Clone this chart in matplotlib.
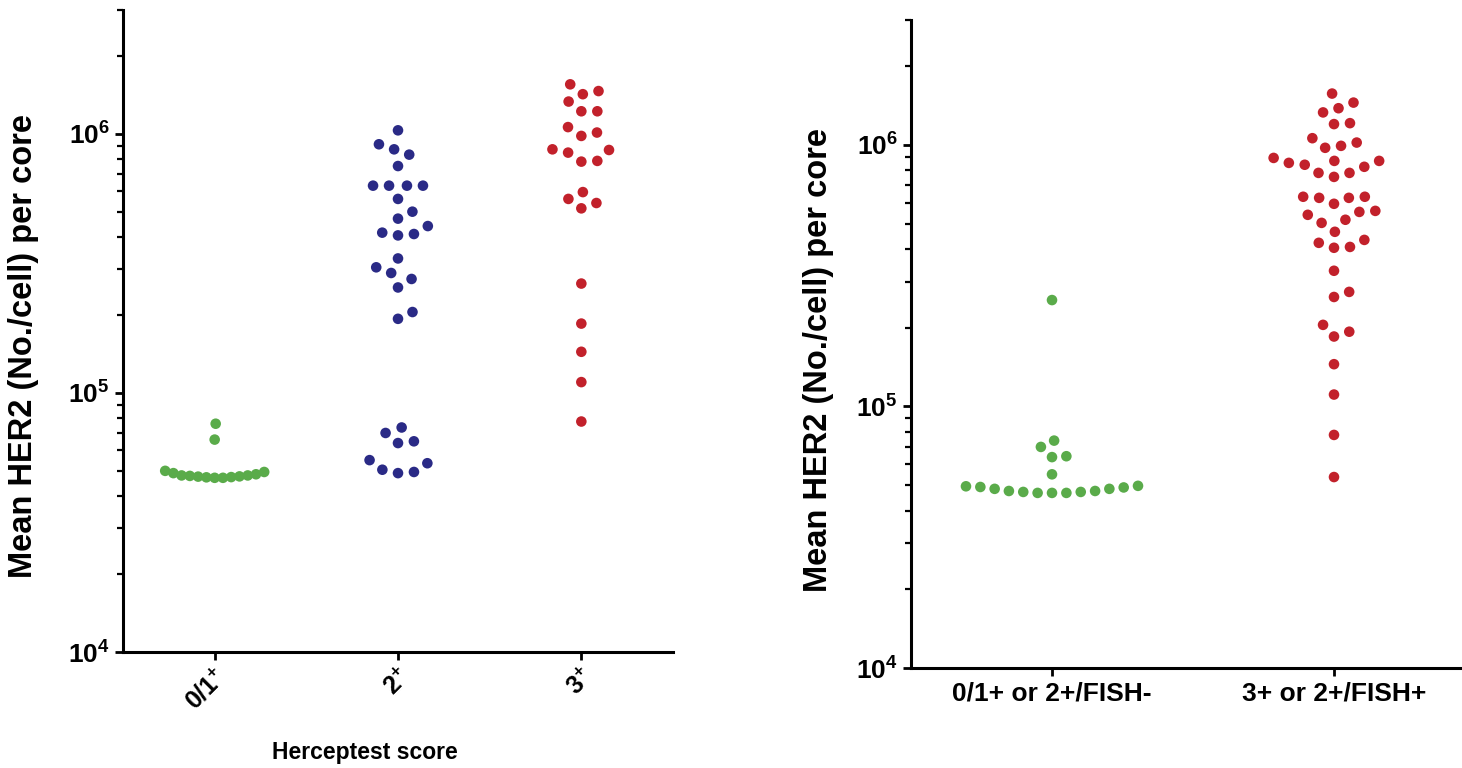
import numpy as np
import matplotlib.pyplot as plt

plt.rcParams['font.family'] = ['Liberation Sans', 'DejaVu Sans']
plt.rcParams['font.weight'] = 'bold'
plt.rcParams['mathtext.fontset'] = 'custom'
plt.rcParams['mathtext.rm'] = 'Liberation Sans:bold'
plt.rcParams['mathtext.bf'] = 'Liberation Sans:bold'

# left panel: Herceptest score groups
left_labels = ['0/1$^{+}$', '2$^{+}$', '3$^{+}$']
green_left = [76000, 66000, 48000, 47500, 47000, 47200, 48500, 50000, 47800,
              49500, 47000, 47300, 47600, 48000, 49000]
blue_left = [1.03e6, 8.7e5, 9.1e5, 8.3e5, 7.5e5, 6.3e5, 6.3e5, 6.3e5, 6.3e5,
             5.6e5, 5.0e5, 4.7e5, 4.4e5, 4.1e5, 4.05e5, 4.15e5, 3.3e5, 3.05e5,
             2.9e5, 2.75e5, 2.55e5, 2.05e5, 1.93e5, 7.35e4, 7.0e4, 6.5e4, 6.4e4,
             5.5e4, 5.35e4, 5.05e4, 4.9e4, 4.95e4]
red_left = [1.55e6, 1.46e6, 1.42e6, 1.33e6, 1.22e6, 1.22e6, 1.06e6, 1.01e6, 9.8e5,
            8.7e5, 8.65e5, 8.45e5, 7.8e5, 7.85e5, 5.95e5, 5.6e5, 5.4e5, 5.15e5,
            2.64e5, 1.85e5, 1.44e5, 1.1e5, 7.75e4]

# right panel: combined groups
right_labels = ['0/1+ or 2+/FISH-', '3+ or 2+/FISH+']
green_right = [2.55e5, 7.4e4, 7.0e4, 6.45e4, 6.4e4, 5.5e4,
               4.97e4, 4.92e4, 4.84e4, 4.75e4, 4.71e4, 4.67e4, 4.67e4,
               4.67e4, 4.71e4, 4.75e4, 4.84e4, 4.9e4, 4.95e4]
red_right = [1.57e6, 1.38e6, 1.45e6, 1.33e6, 1.21e6, 1.20e6, 1.06e6, 1.02e6,
             9.74e5, 9.91e5, 8.91e5, 8.68e5, 8.39e5, 8.68e5, 8.53e5, 8.24e5,
             7.81e5, 7.54e5, 7.81e5, 6.33e5, 6.27e5, 6.33e5, 6.27e5, 5.95e5,
             5.59e5, 5.40e5, 5.54e5, 5.17e5, 5.03e5, 4.65e5, 4.33e5, 4.07e5,
             4.04e5, 4.22e5, 3.30e5, 2.74e5, 2.62e5, 2.05e5, 1.85e5, 1.93e5,
             1.45e5, 1.11e5, 7.78e4, 5.37e4]

GREEN = '#5aab4a'
BLUE = '#2a2a86'
RED = '#c2212b'

W, H = 1462, 768
fig = plt.figure(figsize=(W / 100, H / 100), dpi=100)


def px_axes(x0, y0, x1, y1):
    return fig.add_axes([x0 / W, 1 - y1 / H, (x1 - x0) / W, (y1 - y0) / H])


def style(ax, n):
    ax.set_yscale('log')
    ax.set_ylim(1e4, 3e6)
    ax.set_xlim(-0.5, n - 0.5)
    for s in ['top', 'right']:
        ax.spines[s].set_visible(False)
    for s in ['left', 'bottom']:
        ax.spines[s].set_linewidth(2.2)
    ax.tick_params(axis='both', which='major', width=2, length=6, labelsize=19)
    ax.tick_params(axis='y', which='minor', width=1.6, length=4)
    ax.set_yticks([1e4, 1e5, 1e6])
    ax.set_yticklabels([r'$\mathbf{10^{4}}$', r'$\mathbf{10^{5}}$', r'$\mathbf{10^{6}}$'])


def swarm(ax, xc, vals, color, max_w, D=16.0):
    vals = np.asarray(vals, float)
    pts = ax.transData.transform(np.column_stack([np.full(len(vals), xc), vals]))
    x0 = pts[0, 0]
    ys = pts[:, 1]
    offs = np.zeros(len(vals))
    placed = []
    for i in np.argsort(ys):
        y = ys[i]
        cands = [0.0]
        for px, py in placed:
            dy = y - py
            if abs(dy) < D:
                dx = np.sqrt(D * D - dy * dy)
                cands += [px + dx, px - dx]
        cands.sort(key=abs)
        for c in cands:
            if all((c - px) ** 2 + (y - py) ** 2 >= D * D - 1e-6 for px, py in placed):
                break
        placed.append((c, y))
        offs[i] = c
    # squeeze wide groups to fit the column
    span = offs.max() - offs.min()
    lim = max_w * (ax.transData.transform((1, 1))[0] - ax.transData.transform((0, 1))[0])
    if span > lim:
        offs = offs * lim / span
    xs = ax.transData.inverted().transform(np.column_stack([x0 + offs, ys]))[:, 0]
    ax.scatter(xs, vals, s=58, color=color, edgecolors='none', zorder=3)


ax1 = px_axes(123, 10, 673, 652)
style(ax1, 3)
ax1.set_xticks(range(3))
ax1.set_xticklabels(left_labels, rotation=45, ha='right', va='top',
                    rotation_mode='anchor', fontsize=18)
swarm(ax1, 0, green_left, GREEN, 0.54)
swarm(ax1, 1, blue_left, BLUE, 0.54)
swarm(ax1, 2, red_left, RED, 0.54)

ax2 = px_axes(911, 20, 1475, 668)
style(ax2, 2)
ax2.set_xticks(range(2))
ax2.set_xticklabels(right_labels, fontsize=19)
swarm(ax2, 0, green_right, GREEN, 0.61)
swarm(ax2, 1, red_right, RED, 0.61)

fig.text(24 / W, 1 - 346 / H, 'Mean HER2 (No./cell) per core', rotation=90,
         ha='center', va='center', fontsize=23.5)
fig.text(818 / W, 1 - 360 / H, 'Mean HER2 (No./cell) per core', rotation=90,
         ha='center', va='center', fontsize=23.5)
fig.text(365 / W, 1 - 752 / H, 'Herceptest score', ha='center', va='center', fontsize=16.5)

fig.savefig('out.png', dpi=100)
